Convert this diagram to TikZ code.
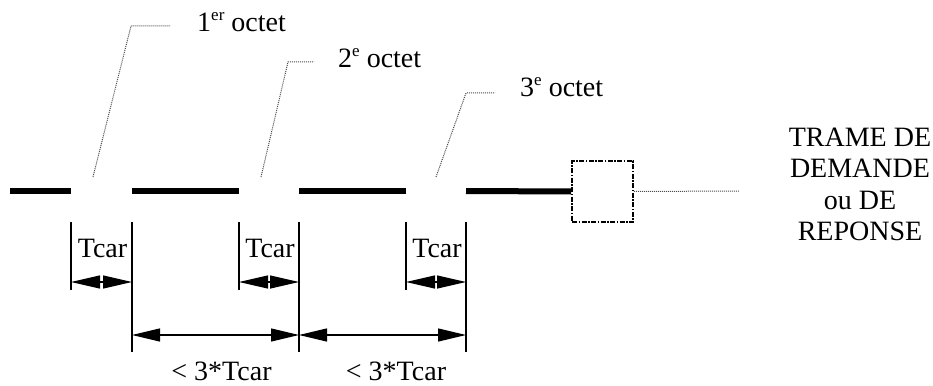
\documentclass[tikz,border=0pt]{standalone}
\usepackage{fontspec}
\setmainfont{Liberation Serif}
\usetikzlibrary{arrows.meta}
\newcommand\supx[1]{\raisebox{0.42em}{\fontsize{17}{17}\selectfont #1}}
\begin{document}
\begin{tikzpicture}[x=1pt,y=-1pt,
  bar/.style={line width=6pt},
  leader/.style={draw=gray!60!black, line width=1pt, dash pattern=on 1pt off 1pt},
  tick/.style={line width=2pt},
  longarrow/.style={line width=1.2pt, {Triangle[length=28pt,width=13pt]}-{Triangle[length=28pt,width=13pt]}},
  shortarrow/.style={line width=1.2pt, {Triangle[length=29pt,width=13pt]}-{Triangle[length=29pt,width=13pt]}},
  lbl/.style={font=\fontsize{28}{31.5}\selectfont, inner sep=0pt},
  framebox/.style={draw, line width=1.8pt, dash pattern=on 5pt off 1.5pt on 1.5pt off 1.5pt,
    minimum width=61pt, minimum height=61pt, inner sep=0pt},
]
\useasboundingbox (0,0) rectangle (933,385);

% timeline bars
\coordinate (b1s) at (10,191);  \coordinate (b1e) at (71,191);
\coordinate (b2s) at (132,191); \coordinate (b2e) at (239,191);
\coordinate (b3s) at (299,191); \coordinate (b3e) at (406,191);
\coordinate (b4s) at (466,191);
\node[framebox] (box) at (602.5,191.5) {};
\draw[bar] (b1s) -- (b1e);
\draw[bar] (b2s) -- (b2e);
\draw[bar] (b3s) -- (b3e);
\draw[bar] (b4s) -- (box.west);

% right text and leader
\node[lbl, anchor=north, align=center] (trame) at (860,127.5) {TRAME DE\\DEMANDE\\ou DE\\REPONSE};
\coordinate (tend) at (739,191);
\draw[leader] (box.east) -- (tend);

% octet labels and leaders
\node[lbl, anchor=base west] (o1) at (197,32) {1\supx{er} octet};
\node[lbl, anchor=base west] (o2) at (338,68) {2\supx{e} octet};
\node[lbl, anchor=base west] (o3) at (520,97) {3\supx{e} octet};
\coordinate (l1a) at (93,177);  \coordinate (l1b) at (131,26); \coordinate (l1c) at (170,26);
\coordinate (l2a) at (261,177); \coordinate (l2b) at (288,62); \coordinate (l2c) at (314,62);
\coordinate (l3a) at (436,177); \coordinate (l3b) at (466,93); \coordinate (l3c) at (495,93);
\draw[leader] (l1a) -- (l1b) -- (l1c);
\draw[leader] (l2a) -- (l2b) -- (l2c);
\draw[leader] (l3a) -- (l3b) -- (l3c);

% ticks
\foreach \n/\x in {t1/71, t3/239, t5/406} {
  \coordinate (\n top) at (\x,222); \coordinate (\n bot) at (\x,290);
  \coordinate (\n mid) at (\x,282);
  \draw[tick] (\n top) -- (\n bot);
}
\foreach \n/\x in {t2/132, t4/299, t6/466} {
  \coordinate (\n top) at (\x,222); \coordinate (\n bot) at (\x,352);
  \coordinate (\n mid) at (\x,282); \coordinate (\n low) at (\x,335);
  \draw[tick] (\n top) -- (\n bot);
}

% Tcar arrows
\draw[shortarrow] (t1mid) -- (t2mid);
\draw[shortarrow] (t3mid) -- (t4mid);
\draw[shortarrow] (t5mid) -- (t6mid);
\node[lbl, anchor=base] (c1) at (102.5,257) {Tcar};
\node[lbl, anchor=base] (c2) at (270,257) {Tcar};
\node[lbl, anchor=base] (c3) at (437,257) {Tcar};

% long arrows
\draw[longarrow] (t2low) -- (t4low);
\draw[longarrow] (t4low) -- (t6low);
\node[lbl, anchor=base] (d1) at (221.5,380) {< 3*Tcar};
\node[lbl, anchor=base] (d2) at (396,380) {< 3*Tcar};
\end{tikzpicture}
\end{document}
